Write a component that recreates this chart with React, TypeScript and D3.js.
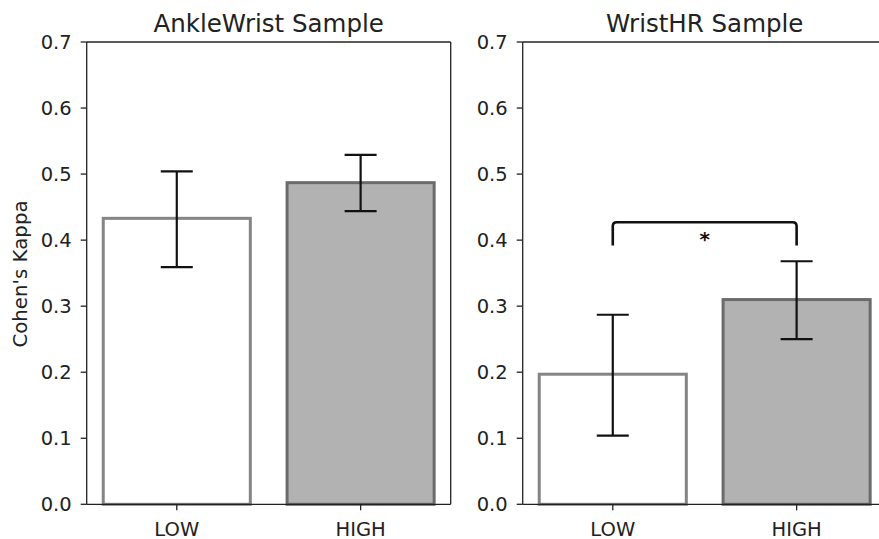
import React from "react";
import * as d3 from "d3";

const categories = ["LOW", "HIGH"];
const panelTitles = ["AnkleWrist Sample", "WristHR Sample"];
const ankleWristMeans = [0.433, 0.487];
const ankleWristLower = [0.359, 0.444];
const ankleWristUpper = [0.504, 0.529];
const wristHRMeans = [0.197, 0.310];
const wristHRLower = [0.104, 0.250];
const wristHRUpper = [0.287, 0.368];
const yTicks = [0.0, 0.1, 0.2, 0.3, 0.4, 0.5, 0.6, 0.7];
const yLabel = "Cohen's Kappa";
// significance bracket between LOW and HIGH in the WristHR panel
const bracketLevel = 0.427;
const bracketFoot = 0.392;
const bracketMark = "*";

const W = 879;
const H = 539;
const top = 42;
const bottom = 504.3;
const panelLefts = [86.7, 522.7];
const panelWidth = 364;
const fills = ["#ffffff", "#b2b2b2"];
const strokes = ["#858585", "#6b6b6b"];
const font = "DejaVu Sans, sans-serif";

type PanelProps = {
  left: number;
  title: string;
  means: number[];
  lower: number[];
  upper: number[];
  bracket?: boolean;
};

function Panel({ left, title, means, lower, upper, bracket }: PanelProps) {
  const x = d3.scaleLinear().domain([-0.49, 1.49]).range([left, left + panelWidth]);
  const y = d3.scaleLinear().domain([0, 0.7]).range([bottom, top]);
  const barW = 0.8;
  const capHalf = 16;
  const right = left + panelWidth;
  return (
    <g>
      {means.map((m, i) => (
        <rect
          key={"b" + i}
          x={x(i - barW / 2)}
          y={y(m)}
          width={x(i + barW / 2) - x(i - barW / 2)}
          height={y(0) - y(m)}
          fill={fills[i]}
          stroke={strokes[i]}
          strokeWidth={3}
        />
      ))}
      {means.map((_, i) => (
        <g key={"e" + i} stroke="#111" strokeWidth={2.2}>
          <line x1={x(i)} x2={x(i)} y1={y(lower[i])} y2={y(upper[i])} />
          <line x1={x(i) - capHalf} x2={x(i) + capHalf} y1={y(lower[i])} y2={y(lower[i])} />
          <line x1={x(i) - capHalf} x2={x(i) + capHalf} y1={y(upper[i])} y2={y(upper[i])} />
        </g>
      ))}
      {bracket && (
        <g>
          <path
            d={`M${x(0)},${y(bracketFoot)} L${x(0)},${y(bracketLevel) + 4} Q${x(0)},${y(bracketLevel)} ${x(0) + 4},${y(bracketLevel)} L${x(1) - 4},${y(bracketLevel)} Q${x(1)},${y(bracketLevel)} ${x(1)},${y(bracketLevel) + 4} L${x(1)},${y(bracketFoot)}`}
            fill="none"
            stroke="#111"
            strokeWidth={2.6}
          />
          <text
            x={(x(0) + x(1)) / 2}
            y={y(bracketLevel) + 24}
            textAnchor="middle"
            fontFamily={font}
            fontWeight="bold"
            fontSize={20}
            fill="#111"
          >
            {bracketMark}
          </text>
        </g>
      )}
      {/* spines */}
      <g stroke="#222" strokeWidth={1.3} fill="none">
        <line x1={left} x2={left} y1={top} y2={bottom} />
        <line x1={left} x2={right} y1={bottom} y2={bottom} />
        <line x1={left} x2={right} y1={top} y2={top} />
        <line x1={right} x2={right} y1={top} y2={bottom} />
      </g>
      {yTicks.map((t) => (
        <g key={"y" + t}>
          <line x1={left - 6} x2={left} y1={y(t)} y2={y(t)} stroke="#222" strokeWidth={1.3} />
          <text
            x={left - 15}
            y={y(t)}
            dy="0.36em"
            textAnchor="end"
            fontFamily={font}
            fontSize={19.5}
            fill="#222"
          >
            {t.toFixed(1)}
          </text>
        </g>
      ))}
      {categories.map((c, i) => (
        <g key={"x" + c}>
          <line x1={x(i)} x2={x(i)} y1={bottom} y2={bottom + 6} stroke="#222" strokeWidth={1.3} />
          <text
            x={x(i)}
            y={bottom + 32}
            textAnchor="middle"
            fontFamily={font}
            fontSize={19.5}
            fill="#222"
          >
            {c}
          </text>
        </g>
      ))}
      <text
        x={(left + right) / 2}
        y={32}
        textAnchor="middle"
        fontFamily={font}
        fontSize={24.5}
        fill="#222"
      >
        {title}
      </text>
    </g>
  );
}

export default function App() {
  return (
    <svg width={W} height={H} style={{ display: "block", position: "absolute", left: 0, top: 0 }}>
      <rect width={W} height={H} fill="#fff" />
      <Panel
        left={panelLefts[0]}
        title={panelTitles[0]}
        means={ankleWristMeans}
        lower={ankleWristLower}
        upper={ankleWristUpper}
      />
      <Panel
        left={panelLefts[1]}
        title={panelTitles[1]}
        means={wristHRMeans}
        lower={wristHRLower}
        upper={wristHRUpper}
        bracket
      />
      <text
        transform={`translate(27,274) rotate(-90)`}
        textAnchor="middle"
        fontFamily={font}
        fontSize={19.8}
        fill="#222"
      >
        {yLabel}
      </text>
    </svg>
  );
}
